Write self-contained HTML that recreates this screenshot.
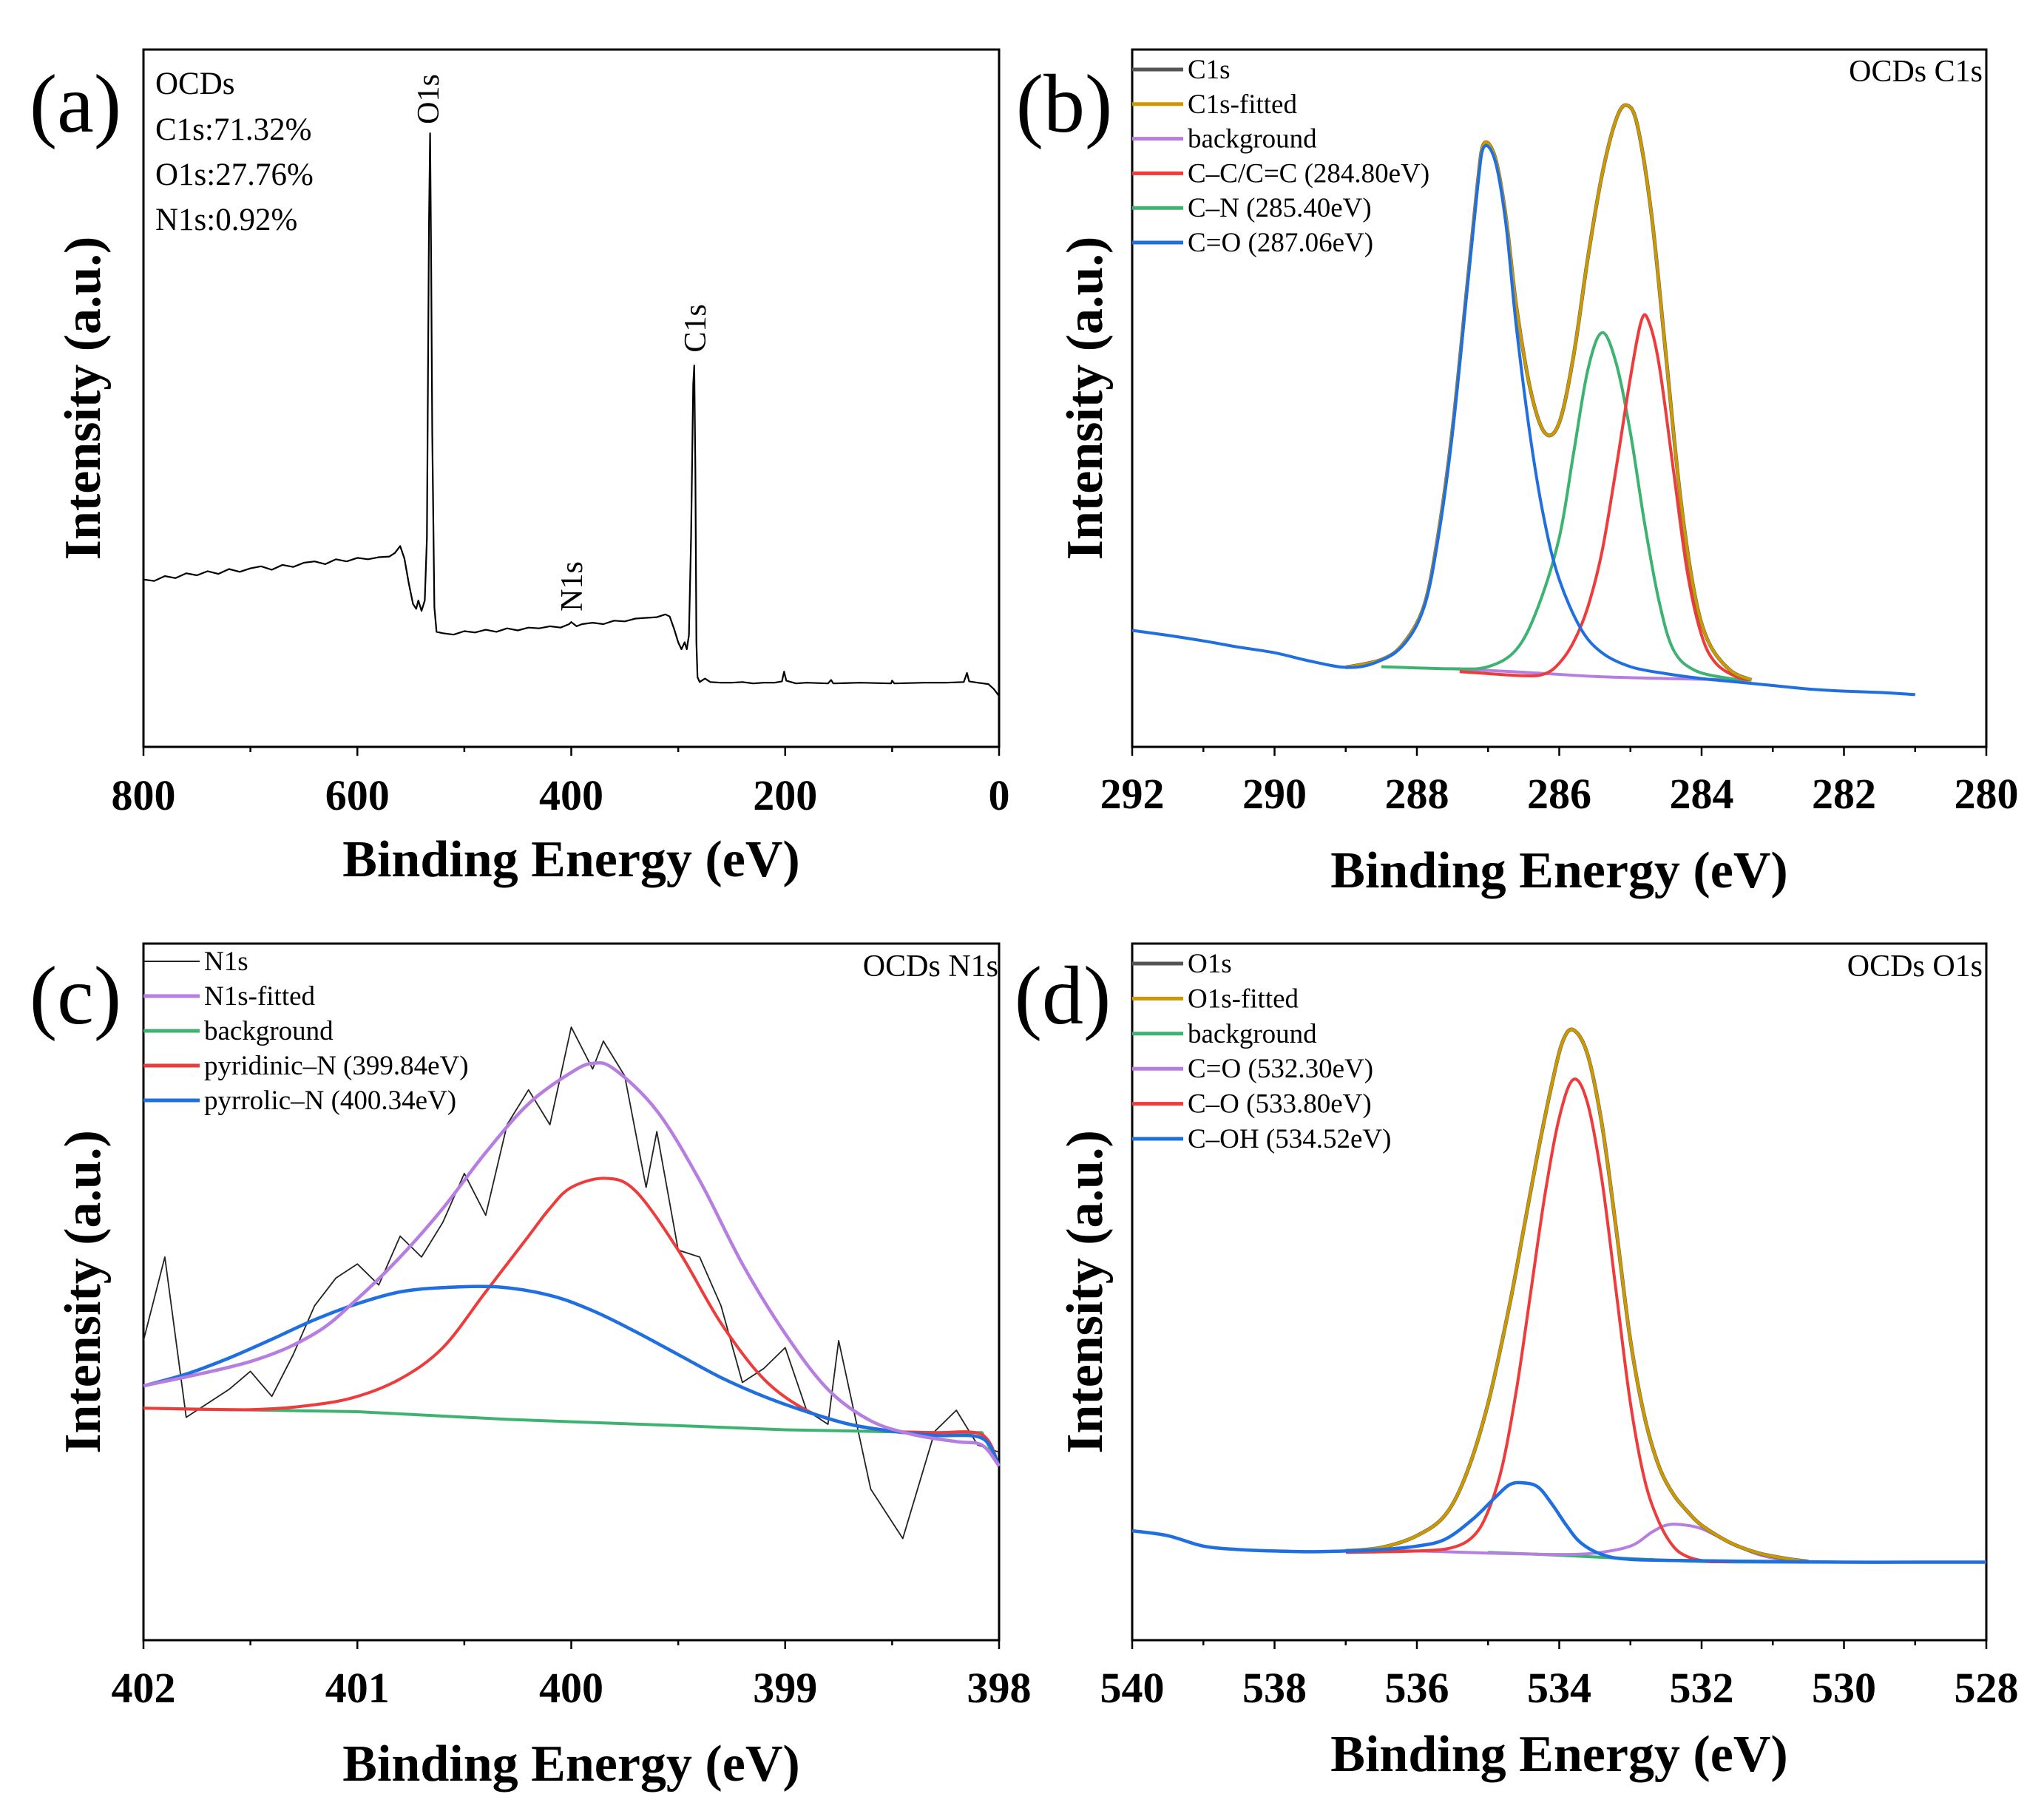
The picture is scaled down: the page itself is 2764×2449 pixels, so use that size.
<!DOCTYPE html>
<html><head><meta charset="utf-8">
<style>
html,body{margin:0;padding:0;background:#fff;}
svg{display:block;font-family:"Liberation Serif","Times New Roman",serif;}
</style></head>
<body>
<svg id="fig" width="2764" height="2449" viewBox="0 0 2764 2449" xmlns="http://www.w3.org/2000/svg"></svg>
<script>
// ---------- Panel (a) survey ----------
const surveyEV = [800,790,780,770,760,750,740,730,720,710,700,690,680,670,660,650,640,630,620,610,600,590,580,570,565,560,556,552,548,545,543,540,537,535,533,532,531,530,528,526,520,510,500,490,480,470,460,450,440,430,420,410,402,400,395,390,380,370,360,350,340,330,320,312,308,304,300,297,294,292,290,288,286,285,284,283,282,280,275,270,260,250,240,230,220,210,203,201,199,190,180,160,157,155,130,101,100,98,70,50,33,30,28,20,10,5,0];
const surveyI = [24,23.8,24.5,24.2,24.9,24.6,25.2,24.8,25.5,25.1,25.6,25.9,25.4,26.1,25.8,26.4,26.6,26.2,26.9,26.6,27.1,26.9,27.2,27.3,27.8,28.8,27,23.5,20.5,19.8,21,19.5,21,30,75,88,70,45,20,16.5,16.3,16.1,16.6,16.4,16.8,16.5,17,16.7,17.1,17,17.3,17.1,17.6,17.9,17.3,17.6,17.8,17.6,18.1,18,18.4,18.5,18.6,19,18.7,17,15,14,15,14,16,30,52,54.7,40,15,10,9.3,9.8,9.3,9.2,9.2,9.3,9.1,9.2,9.2,9.4,10.8,9.5,9.1,9.2,9.1,9.6,9.1,9.2,9.1,9.5,9.1,9.2,9.2,9.3,10.6,9.4,9.2,9,8.3,7.3];
const surveyTicks = [800,600,400,200,0];
// ---------- Panel (b) C1s ----------
const c1sBlueEV = [292,291.5,291,290.5,290,289.5,289,288.6,288.2,287.9,287.7,287.5,287.3,287.15,287.06,286.9,286.75,286.6,286.4,286.2,286,285.7,285.4,285,284.5,284,283.5,283,282.5,282,281.5,281];
const c1sBlueI = [16.7,16,15.2,14.3,13.5,12.3,11.4,12,14.5,20,30,45,65,80,86,84,75,60,44,32,24,17,13.5,11.5,10.5,9.8,9.3,8.8,8.3,8,7.8,7.5];
const c1sFitEV = [289,288.5,288.2,287.9,287.7,287.5,287.3,287.15,287.06,286.9,286.75,286.6,286.4,286.2,286,285.8,285.6,285.4,285.2,285.05,284.9,284.7,284.5,284.3,284.1,283.9,283.6,283.3];
const c1sFitI = [11.4,12.5,14.7,20.2,30.5,45.5,65.5,80.5,86.5,84.5,76,63,51,45,46.5,56,70,82,90,92,89,76,56,36,22,15,11,9.6];
const c1sCNEV = [288.5,287.5,287,286.6,286.3,286,285.8,285.6,285.4,285.2,285,284.8,284.6,284.4,284.1,283.6,283.3];
const c1sCNI = [11.5,11.2,11.5,14,20,30,42,54,59.4,55,45,32,21,14,11,9.8,9.6];
const c1sCCEV = [287.4,286.5,286.2,286,285.8,285.6,285.4,285.2,285,284.85,284.75,284.6,284.4,284.2,284,283.8,283.5,283.3];
const c1sCCI = [10.8,10.2,10.5,12,15,20,28,40,53,61,61.2,55,40,25,16,12,10,9.6];
const c1sBgEV = [287.5,286.5,285.5,284.5,283.3];
const c1sBgI = [11.2,10.7,10.1,9.8,9.6];
const c1sTicks = [292,290,288,286,284,282,280];
// ---------- Panel (c) N1s ----------
const n1sRawEV = [402,401.9,401.8,401.7,401.6,401.5,401.4,401.3,401.2,401.1,401,400.9,400.8,400.7,400.6,400.5,400.4,400.3,400.2,400.1,400,399.9,399.85,399.75,399.65,399.6,399.5,399.4,399.3,399.2,399.1,399,398.9,398.8,398.75,398.6,398.45,398.3,398.2,398.1,398];
const n1sRawI = [43,55,32,34,36,38.6,35,41,48,52,54,51,58,55,60,67,61,74,79,74,88,82,86,81,65,73,56,55,48,37,39,42,33,31,43,21.7,14.6,30,33,28,27];
const n1sFitEV = [402,401.5,401.2,401,400.8,400.6,400.4,400.2,400,399.9,399.8,399.6,399.4,399.2,399,398.8,398.6,398.4,398.2,398.08,398];
const n1sFitI = [36.5,40,44,49,55,62,70,77,81.5,82.8,82,76,66,54,44,36,31.5,29.5,28.5,28,25];
const n1sPyrEV = [402,401.8,401.6,401.4,401.2,401,400.8,400.6,400.34,400.1,399.9,399.7,399.5,399.3,399.1,398.9,398.7,398.5,398.3,398.08,398];
const n1sPyrI = [36.5,38.2,40.5,43.2,46,48.3,50,50.6,50.7,49.5,47.3,44.3,41,37.7,35,32.8,31,30,29.4,29,25];
const n1sPydEV = [402,401.5,401.2,401,400.8,400.6,400.4,400.2,400.1,400,399.84,399.7,399.5,399.3,399.1,398.9,398.7,398.5,398.3,398.08,398];
const n1sPydI = [33.3,33.1,33.8,35,37.5,42,50,58,62,65,66.3,64.5,56,45.5,37.5,33,31,30,29.8,29.5,25];
const n1sBgEV = [402,401,400.3,399.5,399,398.3,398.08,398];
const n1sBgI = [33.3,32.8,31.7,30.8,30.2,29.8,29.8,25];
const n1sTicks = [402,401,400,399,398];
// ---------- Panel (d) O1s ----------
const o1sBlueEV = [540,539.5,539,538.5,538,537.5,537,536.5,536,535.6,535.2,534.9,534.7,534.52,534.3,534.1,533.9,533.7,533.4,533,532,531,530,529,528];
const o1sBlueI = [15.7,15,13.5,13,12.8,12.7,12.8,13,13.5,14.5,17.5,20.5,22.3,22.6,22,19.5,16.5,14,12.3,11.6,11.4,11.3,11.2,11.2,11.2];
const o1sFitEV = [537,536.5,536,535.6,535.3,535,534.7,534.5,534.3,534.1,533.95,533.8,533.6,533.4,533.2,533,532.8,532.6,532.4,532.2,532,531.6,531.2,530.8,530.5];
const o1sFitI = [12.8,13.3,15,18,24,34,48,59,70,80,86,87.6,84,74,59,43,32,25,21,18.5,16.5,14,12.5,11.7,11.3];
const o1sCOEV = [537,536,535.5,535.2,535,534.8,534.6,534.4,534.2,534,533.8,533.6,533.4,533.2,533,532.8,532.6,532.4,532.2,531.9,531.5];
const o1sCOI = [12.6,12.8,13.3,15,18.5,25,36,50,64,75,80.5,77,66,50,34,23,17,13.5,12,11.3,11.3];
const o1sCdOEV = [537,536,535,534.5,534,533.5,533,532.7,532.5,532.3,532,531.6,531.2,530.8,530.4];
const o1sCdOI = [12.9,12.8,12.5,12.4,12.3,12.5,13.5,15.5,16.5,16.6,16,14,12.3,11.5,11.2];
const o1sBgEV = [535,534,533,532,531,530];
const o1sBgI = [12.6,12.2,11.7,11.3,11.2,11.2];
const o1sTicks = [540,538,536,534,532,530,528];

const NS = "http://www.w3.org/2000/svg";
const svg = document.getElementById('fig');
function el(tag, attrs, parent){
  const e = document.createElementNS(NS, tag);
  for (const k in attrs) e.setAttribute(k, attrs[k]);
  (parent||svg).appendChild(e);
  return e;
}
const COL = {black:'#555555', gold:'#cc9900', purple:'#b57ee0', red:'#ee3b3b', green:'#3cb371', blue:'#1f6fe0'};

function makePanel(p){
  const g = el('g', {});
  
  
  const X = v => p.x0 + (p.xmax - v) / (p.xmax - p.xmin) * (p.x1 - p.x0);
  const Y = v => p.y1 - v / 100 * (p.y1 - p.y0);
  p.X = X; p.Y = Y; p.g = g;
  const fr = el('rect', {x:p.x0, y:p.y0, width:p.x1-p.x0, height:p.y1-p.y0, fill:'none', stroke:'#000', 'stroke-width':3}, g);
  
  
  const step = p.ticks[0] - p.ticks[1];
  for (let v = p.xmax; v >= p.xmin - 1e-9; v -= step/2){
    const major = p.ticks.some(t => Math.abs(t - v) < 1e-6);
    const tk = el('line', {x1:X(v), x2:X(v), y1:p.y1, y2:p.y1 + (major?12:7), stroke:'#000', 'stroke-width':2.5}, g);
    
    
  }
  p.ticks.forEach(t => {
    const tl = el('text', {x:X(t), y:p.tickY, 'text-anchor':'middle', 'font-size':58, 'font-weight':'bold'}, g);
    tl.textContent = t;
    
    
  });
  const xt = el('text', {x:(p.x0+p.x1)/2, y:p.titleY, 'text-anchor':'middle', 'font-size':70, 'font-weight':'bold'}, g);
  xt.textContent = 'Binding Energy (eV)';
  
  
  const yc = (p.y0 + p.y1) / 2;
  const yt = el('text', {x:0, y:0, transform:`translate(${p.ytX},${yc}) rotate(-90)`, 'text-anchor':'middle', 'font-size':70, 'font-weight':'bold'}, g);
  yt.textContent = 'Intensity (a.u.)';
  
  
  const pl = el('text', {x:p.lblX, y:p.lblY, 'text-anchor':'middle', 'font-size':112}, g);
  pl.textContent = p.label;
  
  
  return p;
}
function pathD(p, xs, ys, smooth){
  const pts = xs.map((x,i) => [p.X(x), p.Y(ys[i])]);
  if (!smooth) return 'M' + pts.map(q => q[0].toFixed(1)+','+q[1].toFixed(1)).join('L');
  let d = 'M' + pts[0][0].toFixed(1) + ',' + pts[0][1].toFixed(1);
  for (let i = 0; i < pts.length - 1; i++){
    const p0 = pts[Math.max(0,i-1)], p1 = pts[i], p2 = pts[i+1], p3 = pts[Math.min(pts.length-1,i+2)];
    const c1 = [p1[0] + (p2[0]-p0[0])/6, p1[1] + (p2[1]-p0[1])/6];
    const c2 = [p2[0] - (p3[0]-p1[0])/6, p2[1] - (p3[1]-p1[1])/6];
    d += 'C' + c1.map(v=>v.toFixed(1)).join(',') + ' ' + c2.map(v=>v.toFixed(1)).join(',') + ' ' + p2[0].toFixed(1) + ',' + p2[1].toFixed(1);
  }
  return d;
}
function series(p, xs, ys, color, w, smooth, name){
  const s = el('path', {d:pathD(p, xs, ys, smooth), fill:'none', stroke:color, 'stroke-width':w, 'stroke-linejoin':'round'}, p.g);
  
  
}
function legend(p, items, x0, y0, dy, lineLen){
  items.forEach((it, i) => {
    const y = y0 + i*dy;
    const ln = el('line', {x1:x0, x2:x0+lineLen, y1:y, y2:y, stroke:it[1], 'stroke-width':it[2]}, p.g);
    
    
    const t = el('text', {x:x0+lineLen+6, y:y+12, 'font-size':37}, p.g);
    t.textContent = it[0];
    
    
  });
}
function note(p, txt, x, y, anchor, size, rot){
  const t = el('text', rot ? {x:0, y:0, transform:`translate(${x},${y}) rotate(-90)`, 'text-anchor':'middle', 'font-size':size} : {x:x, y:y, 'text-anchor':anchor, 'font-size':size}, p.g);
  t.textContent = txt;
  
  
}

const pa = makePanel({name:'panel-a-survey', x0:194, x1:1351, y0:67, y1:1010, xmin:0, xmax:800, ticks:surveyTicks, tickY:1095, titleY:1185, ytX:135, lblX:102, lblY:178, label:'(a)'});
series(pa, surveyEV, surveyI, '#000', 2.2, false, 'survey-spectrum');
note(pa, 'OCDs', 210, 127, 'start', 43);
note(pa, 'C1s:71.32%', 210, 189, 'start', 43);
note(pa, 'O1s:27.76%', 210, 250, 'start', 43);
note(pa, 'N1s:0.92%', 210, 311, 'start', 43);
note(pa, 'O1s', 593, 134, 'middle', 42, true);
note(pa, 'N1s', 787, 793, 'middle', 42, true);
note(pa, 'C1s', 954, 444, 'middle', 42, true);

const pb = makePanel({name:'panel-b-c1s', x0:1531, x1:2686, y0:67, y1:1010, xmin:280, xmax:292, ticks:c1sTicks, tickY:1093, titleY:1200, ytX:1490, lblX:1439, lblY:178, label:'(b)'});
series(pb, c1sBgEV, c1sBgI, COL.purple, 4, true, 'c1s-background');
series(pb, c1sCNEV, c1sCNI, COL.green, 4, true, 'c1s-cn-component');
series(pb, c1sCCEV, c1sCCI, COL.red, 4, true, 'c1s-cc-component');
series(pb, c1sFitEV, c1sFitI, COL.black, 5, true, 'c1s-raw');
series(pb, c1sFitEV, c1sFitI, COL.gold, 4, true, 'c1s-fitted');
series(pb, c1sBlueEV, c1sBlueI, COL.blue, 4, true, 'c1s-co-component');
legend(pb, [['C1s',COL.black,5],['C1s-fitted',COL.gold,5],['background',COL.purple,5],['C\u2013C/C=C (284.80eV)',COL.red,5],['C\u2013N (285.40eV)',COL.green,5],['C=O (287.06eV)',COL.blue,5]], 1531, 94, 46.8, 69);
note(pb, 'OCDs C1s', 2681, 110, 'end', 42);

const pc = makePanel({name:'panel-c-n1s', x0:194, x1:1351, y0:1276, y1:2218, xmin:398, xmax:402, ticks:n1sTicks, tickY:2302, titleY:2408, ytX:135, lblX:102, lblY:1384, label:'(c)'});
series(pc, n1sRawEV, n1sRawI, '#222', 1.8, false, 'n1s-raw');
series(pc, n1sBgEV, n1sBgI, COL.green, 4, false, 'n1s-background');
series(pc, n1sPydEV, n1sPydI, COL.red, 4, true, 'n1s-pyridinic');
series(pc, n1sPyrEV, n1sPyrI, COL.blue, 4.5, true, 'n1s-pyrrolic');
series(pc, n1sFitEV, n1sFitI, COL.purple, 4.5, true, 'n1s-fitted');
legend(pc, [['N1s','#222',2],['N1s-fitted',COL.purple,5],['background',COL.green,5],['pyridinic\u2013N (399.84eV)',COL.red,5],['pyrrolic\u2013N (400.34eV)',COL.blue,5]], 194, 1300, 47, 76);
note(pc, 'OCDs N1s', 1350, 1320, 'end', 42);

const pd = makePanel({name:'panel-d-o1s', x0:1531, x1:2686, y0:1276, y1:2218, xmin:528, xmax:540, ticks:o1sTicks, tickY:2302, titleY:2395, ytX:1490, lblX:1437, lblY:1384, label:'(d)'});
series(pd, o1sBgEV, o1sBgI, COL.green, 4, true, 'o1s-background');
series(pd, o1sCdOEV, o1sCdOI, COL.purple, 4, true, 'o1s-c-double-o');
series(pd, o1sCOEV, o1sCOI, COL.red, 4, true, 'o1s-c-o');
series(pd, o1sFitEV, o1sFitI, COL.black, 5, true, 'o1s-raw');
series(pd, o1sFitEV, o1sFitI, COL.gold, 4, true, 'o1s-fitted');
series(pd, o1sBlueEV, o1sBlueI, COL.blue, 4.5, true, 'o1s-c-oh');
legend(pd, [['O1s',COL.black,5],['O1s-fitted',COL.gold,5],['background',COL.green,5],['C=O (532.30eV)',COL.purple,5],['C\u2013O (533.80eV)',COL.red,5],['C\u2013OH (534.52eV)',COL.blue,5]], 1531, 1303, 47.4, 69);
note(pd, 'OCDs O1s', 2681, 1320, 'end', 42);
</script>
</body></html>
